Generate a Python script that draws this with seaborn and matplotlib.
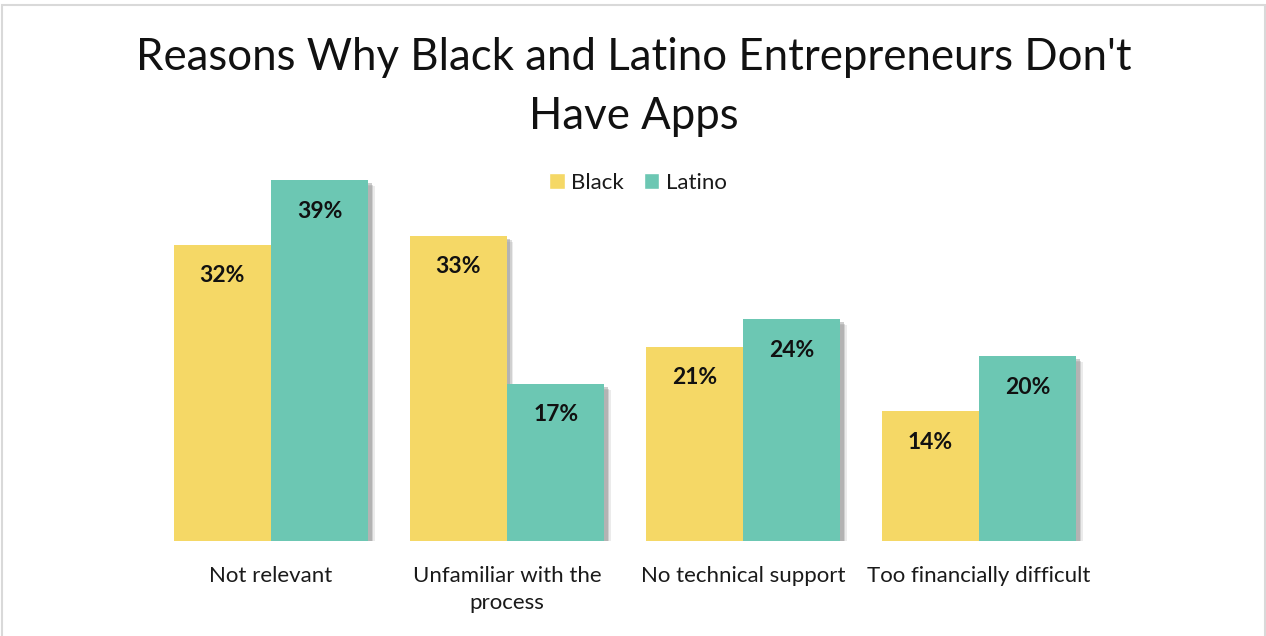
import matplotlib
matplotlib.use("Agg")
import matplotlib.pyplot as plt
import matplotlib.patheffects as pe
import pandas as pd
import seaborn as sns

# Survey results (% of respondents)
categories = ["Not relevant", "Unfamiliar with the\nprocess", "No technical support", "Too financially difficult"]
groups = ["Black", "Latino"]
black_pct = [32, 33, 21, 14]
latino_pct = [39, 17, 24, 20]
colors = {"Black": "#F5D866", "Latino": "#6CC7B3"}

df = pd.DataFrame({
    "Reason": categories * 2,
    "Group": ["Black"] * len(categories) + ["Latino"] * len(categories),
    "Percent": black_pct + latino_pct,
})

sns.set_theme(style="white")
plt.rcParams["font.family"] = ["Lato", "DejaVu Sans"]

W, H = 1266, 636
fig = plt.figure(figsize=(W / 100, H / 100), dpi=100)
fig.patch.set_facecolor("white")

ax = fig.add_axes([153 / W, 1 - 541 / H, 944 / W, 416.5 / H])
sns.barplot(data=df, x="Reason", y="Percent", hue="Group", hue_order=groups,
            palette=colors, width=0.826, saturation=1, ax=ax, legend=True)

ax.set_xlim(-0.5, 3.5)
ax.set_ylim(0, 45)
for s in ax.spines.values():
    s.set_visible(False)
ax.set_yticks([])
ax.set_xlabel("")
ax.set_ylabel("")
ax.tick_params(axis="x", length=0, pad=18, labelsize=16, labelcolor="#1a1a1a")
for t in ax.get_xticklabels():
    t.set_linespacing(1.45)
ax.set_facecolor("none")

# soft drop shadow: a few stacked offsets with low alpha
shadow = [
    pe.SimplePatchShadow(offset=(4.5, -4.5), shadow_rgbFace="#b0b0b0", alpha=0.25),
    pe.SimplePatchShadow(offset=(3.5, -3.5), shadow_rgbFace="#a0a0a0", alpha=0.35),
    pe.SimplePatchShadow(offset=(2.2, -2.2), shadow_rgbFace="#909090", alpha=0.45),
    pe.Normal(),
]
for container in ax.containers:
    for bar in container:
        bar.set_edgecolor("none")
        bar.set_path_effects(shadow)
    ax.bar_label(container, labels=[f"{v:.0f}%" for v in container.datavalues],
                 padding=-30, fontsize=16.5, fontweight="bold", color="#111111")

handles, labels = ax.get_legend_handles_labels()
ax.legend(handles, labels, loc="center", bbox_to_anchor=(638 / W, 1 - 183 / H),
          bbox_transform=fig.transFigure, ncol=2, frameon=False, fontsize=16,
          handlelength=0.7, handleheight=0.7, handletextpad=0.3, columnspacing=0.9,
          labelcolor="#1a1a1a")

fig.text(634 / W, 1 - 87 / H, "Reasons Why Black and Latino Entrepreneurs Don't\nHave Apps",
         ha="center", va="center", fontsize=31.5, color="#111111", linespacing=1.55)

# light frame around the chart area
fig.add_artist(plt.Rectangle((2 / W, -0.01), 1263 / W, 1 - 4.5 / H + 0.01,
                             transform=fig.transFigure, fill=False,
                             edgecolor="#D9D9D9", linewidth=1.5))

fig.savefig("out.png", dpi=100, facecolor="white")
